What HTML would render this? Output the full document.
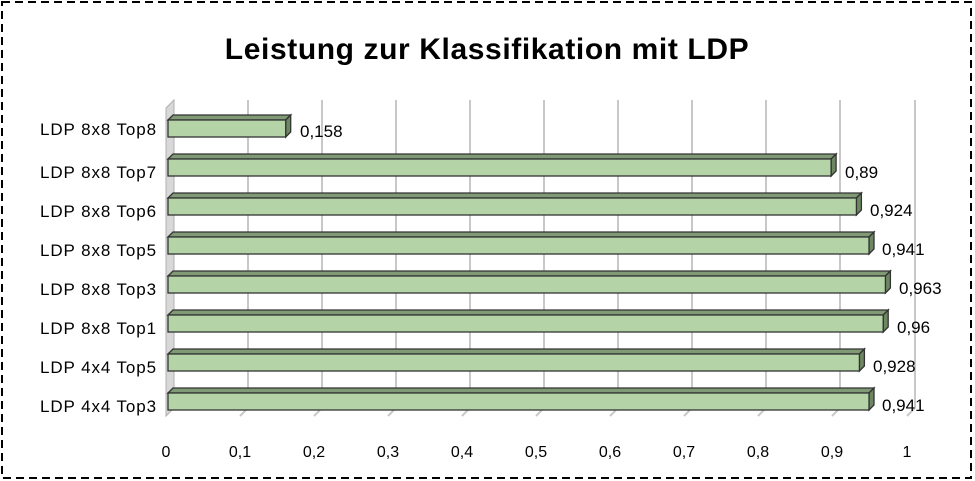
<!DOCTYPE html>
<html><head><meta charset="utf-8"><style>
body{margin:0;background:#fff;}
svg{display:block;font-family:"Liberation Sans",sans-serif;}
</style></head><body>
<svg width="975" height="481" xmlns="http://www.w3.org/2000/svg">
<rect x="2" y="2" width="969" height="476" fill="#fff" stroke="#000" stroke-width="2" stroke-dasharray="8,5"/>
<text x="487" y="59" text-anchor="middle" font-size="30" font-weight="bold" letter-spacing="0.6">Leistung zur Klassifikation mit LDP</text>
<polygon points="166,108 174,100 174,408 166,416" fill="#d8d8d8" stroke="#b0b0b0"/>
<g stroke="#c8c8c8" stroke-width="2" fill="none">
<path d="M248,100V408l-8,8"/><path d="M322,100V408l-8,8"/><path d="M396,100V408l-8,8"/>
<path d="M470,100V408l-8,8"/><path d="M544,100V408l-8,8"/><path d="M618,100V408l-8,8"/>
<path d="M692,100V408l-8,8"/><path d="M766,100V408l-8,8"/><path d="M840,100V408l-8,8"/>
<path d="M915,100V408l-8,8"/>
</g>
<g font-size="16" text-anchor="middle">
<text x="166" y="457">0</text><text x="240" y="457">0,1</text><text x="314" y="457">0,2</text><text x="388" y="457">0,3</text><text x="462" y="457">0,4</text><text x="536" y="457">0,5</text><text x="610" y="457">0,6</text><text x="684" y="457">0,7</text><text x="758" y="457">0,8</text><text x="832" y="457">0,9</text><text x="907" y="457">1</text>
</g>
<g font-size="17" text-anchor="end" letter-spacing="0.9">
<text x="157" y="135">LDP 8x8 Top8</text><text x="157" y="178">LDP 8x8 Top7</text><text x="157" y="217">LDP 8x8 Top6</text><text x="157" y="256">LDP 8x8 Top5</text><text x="157" y="295">LDP 8x8 Top3</text><text x="157" y="334">LDP 8x8 Top1</text><text x="157" y="373">LDP 4x4 Top5</text><text x="157" y="412">LDP 4x4 Top3</text>
</g>
<g stroke="#333" stroke-width="1.3">
<polygon points="168,120 173,115 290.7,115 285.7,120" fill="#7f9a74"/><polygon points="285.7,120 290.7,115 290.7,132 285.7,137" fill="#6d8762"/><rect x="168" y="120" width="117.7" height="17" fill="#b4d4a8"/>
<polygon points="168,159 173,154 836.1,154 831.1,159" fill="#7f9a74"/><polygon points="831.1,159 836.1,154 836.1,171 831.1,176" fill="#6d8762"/><rect x="168" y="159" width="663.1" height="17" fill="#b4d4a8"/>
<polygon points="168,198 173,193 861.4,193 856.4,198" fill="#7f9a74"/><polygon points="856.4,198 861.4,193 861.4,210 856.4,215" fill="#6d8762"/><rect x="168" y="198" width="688.4" height="17" fill="#b4d4a8"/>
<polygon points="168,237 173,232 874,232 869,237" fill="#7f9a74"/><polygon points="869,237 874,232 874,249 869,254" fill="#6d8762"/><rect x="168" y="237" width="701" height="17" fill="#b4d4a8"/>
<polygon points="168,276 173,271 890.4,271 885.4,276" fill="#7f9a74"/><polygon points="885.4,276 890.4,271 890.4,288 885.4,293" fill="#6d8762"/><rect x="168" y="276" width="717.4" height="17" fill="#b4d4a8"/>
<polygon points="168,315 173,310 888.2,310 883.2,315" fill="#7f9a74"/><polygon points="883.2,315 888.2,310 888.2,327 883.2,332" fill="#6d8762"/><rect x="168" y="315" width="715.2" height="17" fill="#b4d4a8"/>
<polygon points="168,354 173,349 864.4,349 859.4,354" fill="#7f9a74"/><polygon points="859.4,354 864.4,349 864.4,366 859.4,371" fill="#6d8762"/><rect x="168" y="354" width="691.4" height="17" fill="#b4d4a8"/>
<polygon points="168,393 173,388 874,388 869,393" fill="#7f9a74"/><polygon points="869,393 874,388 874,405 869,410" fill="#6d8762"/><rect x="168" y="393" width="701" height="17" fill="#b4d4a8"/>
</g>
<g font-size="17">
<text x="300" y="137">0,158</text>
<text x="845" y="178">0,89</text>
<text x="870" y="216">0,924</text>
<text x="882" y="255">0,941</text>
<text x="899" y="294">0,963</text>
<text x="897" y="333">0,96</text>
<text x="873" y="372">0,928</text>
<text x="882" y="411">0,941</text>
</g>
</svg>
</body></html>
